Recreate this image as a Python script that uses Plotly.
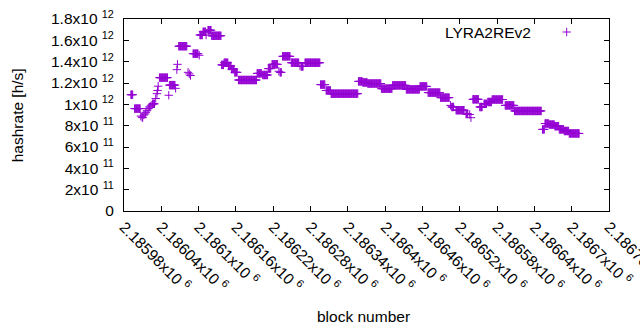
import numpy as np
import plotly.graph_objects as go

# Runs of constant hashrate: first block, last block, hashrate [h/s]
run_start = [2185991, 2185997, 2186007, 2186009, 2186010, 2186012, 2186014, 2186015, 2186017, 2186019,
             2186021, 2186023, 2186025, 2186026, 2186031, 2186033, 2186034, 2186035, 2186037, 2186052,
             2186053, 2186063, 2186065, 2186066, 2186068, 2186083, 2186085, 2186087, 2186091, 2186101,
             2186102, 2186107, 2186112, 2186115, 2186121, 2186137, 2186141, 2186148, 2186153, 2186158,
             2186164, 2186194, 2186203, 2186212, 2186218, 2186229, 2186231, 2186235, 2186249, 2186263,
             2186265, 2186271, 2186296, 2186305, 2186313, 2186357, 2186364, 2186372, 2186394, 2186412,
             2186434, 2186456, 2186469, 2186489, 2186505, 2186507, 2186514, 2186530, 2186536, 2186538,
             2186541, 2186552, 2186559, 2186565, 2186572, 2186593, 2186608, 2186653, 2186657, 2186664,
             2186673, 2186680, 2186688, 2186696]
run_end = [2185994, 2186006, 2186007, 2186009, 2186010, 2186012, 2186014, 2186015, 2186017, 2186019,
           2186021, 2186023, 2186025, 2186029, 2186031, 2186033, 2186034, 2186035, 2186050, 2186052,
           2186062, 2186063, 2186065, 2186066, 2186081, 2186083, 2186085, 2186087, 2186099, 2186101,
           2186106, 2186111, 2186112, 2186120, 2186136, 2186140, 2186147, 2186152, 2186157, 2186162,
           2186193, 2186201, 2186211, 2186216, 2186227, 2186229, 2186233, 2186247, 2186261, 2186263,
           2186268, 2186295, 2186303, 2186312, 2186356, 2186363, 2186371, 2186393, 2186411, 2186433,
           2186455, 2186467, 2186488, 2186503, 2186505, 2186510, 2186527, 2186533, 2186536, 2186538,
           2186550, 2186556, 2186563, 2186571, 2186589, 2186607, 2186651, 2186656, 2186663, 2186672,
           2186679, 2186687, 2186695, 2186712]
run_hashrate = [1.09e12, 0.96e12, 0.89e12, 0.88e12, 0.875e12, 0.90e12, 0.91e12, 0.925e12, 0.94e12, 0.96e12,
                0.975e12, 0.985e12, 0.995e12, 1.005e12, 1.055e12, 1.10e12, 1.13e12, 1.17e12, 1.25e12, 1.085e12,
                1.18e12, 1.15e12, 1.325e12, 1.375e12, 1.545e12, 1.30e12, 1.285e12, 1.27e12, 1.475e12, 1.46e12,
                1.65e12, 1.68e12, 1.65e12, 1.695e12, 1.643e12, 1.37e12, 1.39e12, 1.36e12, 1.33e12, 1.30e12,
                1.228e12, 1.29e12, 1.275e12, 1.335e12, 1.375e12, 1.31e12, 1.30e12, 1.45e12, 1.39e12, 1.36e12,
                1.355e12, 1.39e12, 1.185e12, 1.13e12, 1.10e12, 1.215e12, 1.205e12, 1.195e12, 1.147e12, 1.178e12,
                1.14e12, 1.168e12, 1.11e12, 1.063e12, 0.99e12, 0.975e12, 0.945e12, 0.91e12, 0.905e12, 0.875e12,
                1.047e12, 0.975e12, 1.005e12, 1.022e12, 1.045e12, 0.99e12, 0.938e12, 0.765e12, 0.82e12, 0.81e12,
                0.795e12, 0.765e12, 0.75e12, 0.727e12]

x_tickvals = [2185980, 2186040, 2186100, 2186160, 2186220, 2186280, 2186340, 2186400,
              2186460, 2186520, 2186580, 2186640, 2186700, 2186760]
x_ticktext = ["2.18598x10 <sup>6</sup>", "2.18604x10 <sup>6</sup>", "2.1861x10 <sup>6</sup>",
              "2.18616x10 <sup>6</sup>", "2.18622x10 <sup>6</sup>", "2.18628x10 <sup>6</sup>",
              "2.18634x10 <sup>6</sup>", "2.1864x10 <sup>6</sup>", "2.18646x10 <sup>6</sup>",
              "2.18652x10 <sup>6</sup>", "2.18658x10 <sup>6</sup>", "2.18664x10 <sup>6</sup>",
              "2.1867x10 <sup>6</sup>", "2.18676x10 <sup>6</sup>"]
y_tickvals = [0, 2e11, 4e11, 6e11, 8e11, 1e12, 1.2e12, 1.4e12, 1.6e12, 1.8e12]
y_ticktext = ["0", "2x10 <sup>11</sup>", "4x10 <sup>11</sup>", "6x10 <sup>11</sup>", "8x10 <sup>11</sup>",
              "1x10 <sup>12</sup>", "1.2x10 <sup>12</sup>", "1.4x10 <sup>12</sup>", "1.6x10 <sup>12</sup>",
              "1.8x10 <sup>12</sup>"]

blocks = []
hashes = []
for s, e, v in zip(run_start, run_end, run_hashrate):
    for b in range(s, e + 1):
        blocks.append(b)
        hashes.append(v)

COLOR = "#9400D3"
FONT = "Liberation Sans, Arial, sans-serif"
FS = 15.5

fig = go.Figure(go.Scatter(
    x=blocks, y=hashes, mode="markers", name=" ", showlegend=True,
    marker=dict(symbol="cross-thin", size=6, color=COLOR, line=dict(color=COLOR, width=1)),
))

axis_common = dict(showline=True, linecolor="black", linewidth=1, mirror="ticks",
                   ticks="inside", ticklen=5, tickcolor="black", tickwidth=1,
                   showgrid=False, zeroline=False, ticklabeloverflow="allow",
                   tickfont=dict(family=FONT, size=FS, color="black"))

fig.update_xaxes(range=[2185980, 2186760], tickmode="array", tickvals=x_tickvals,
                 ticktext=x_ticktext, tickangle=45, **axis_common)
fig.update_yaxes(range=[0, 1.8e12], tickmode="array", tickvals=y_tickvals,
                 ticktext=y_ticktext, ticklabelstandoff=6, **axis_common)

fig.update_layout(
    width=640, height=330,
    margin=dict(l=124, r=31, t=19, b=119, autoexpand=False),
    plot_bgcolor="white", paper_bgcolor="white",
    font=dict(family=FONT, size=FS, color="black"),
    legend=dict(x=0.8715, y=0.93, xanchor="left", yanchor="middle",
                bgcolor="rgba(0,0,0,0)", font=dict(family=FONT, size=FS)),
    annotations=[
        dict(text="LYRA2REv2", x=0.8433, y=0.93, xref="paper", yref="paper",
             xanchor="right", yanchor="middle", showarrow=False,
             font=dict(family=FONT, size=FS, color="black")),
        dict(text="hashrate [h/s]", x=-0.2206, y=0.4987, xref="paper", yref="paper",
             xanchor="center", yanchor="middle", textangle=-90, showarrow=False,
             font=dict(family=FONT, size=FS, color="black")),
        dict(text="block number", x=0.4948, y=-0.55, xref="paper", yref="paper",
             xanchor="center", yanchor="middle", showarrow=False,
             font=dict(family=FONT, size=FS, color="black")),
    ],
)

fig.write_html("out.html", config={"displayModeBar": False},
               post_script="document.body.style.margin='0';")
